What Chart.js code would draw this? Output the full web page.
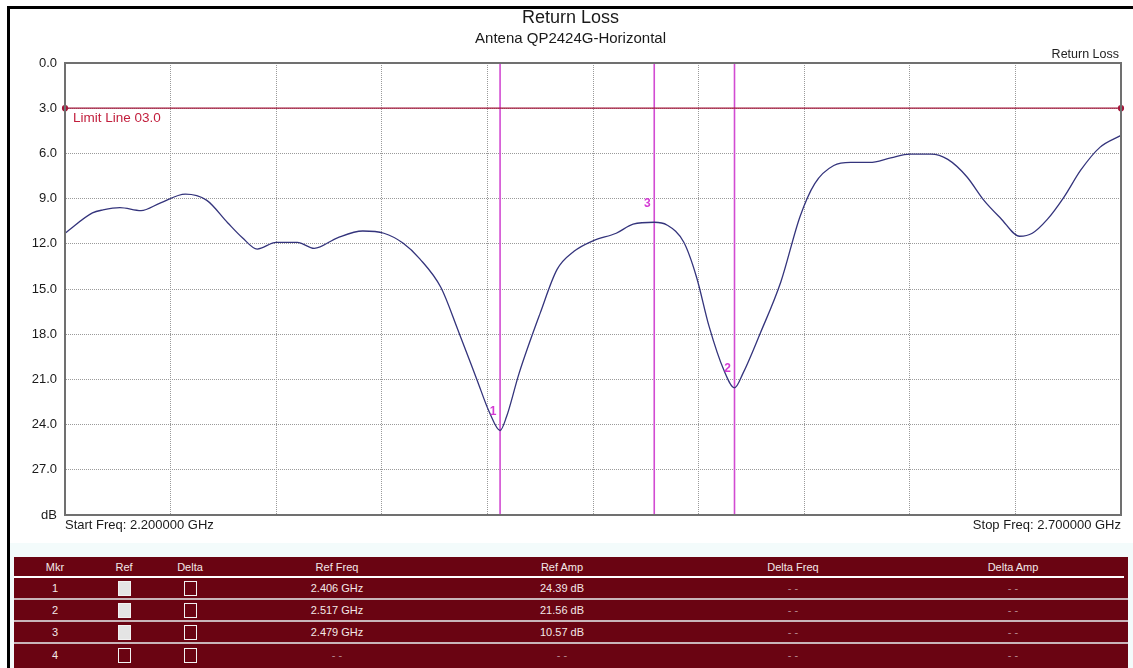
<!DOCTYPE html>
<html>
<head>
<meta charset="utf-8">
<title>Return Loss</title>
<script src="https://cdn.jsdelivr.net/npm/chart.js@4.4.1/dist/chart.umd.min.js"></script>
<style>
  body { margin: 0; width: 1133px; height: 668px; overflow: hidden; background: #fff; position: relative;
         font-family: Arial, "Liberation Sans", sans-serif; }
  #frame { position: absolute; left: 7px; top: 6px; right: 0; bottom: 0; border-top: 3px solid #000; border-left: 3px solid #000; }
  #panel { position: absolute; left: 10px; top: 543px; right: 0; bottom: 0; background: #f3fbfb; }
  #chart { position: absolute; left: 0; top: 0; }
  #mkr { position: absolute; left: 14px; top: 557px; width: 1114px; height: 111px; background: #6a0412;
         color: #f3e8e8; font-size: 11px; }
  .row { display: flex; align-items: center; box-sizing: border-box; }
  .row.head { height: 21px; border-bottom: 2px solid #fff; margin-right: 4px; }
  .row.body { height: 22px; border-bottom: 2px solid #c9b5b9; }
  .row.body:last-child { border-bottom: none; }
  .cell { text-align: center; }
  .dash { color: #b88c94; }
  .box { display: inline-block; width: 13px; height: 15px; box-sizing: border-box; border: 1.5px solid #f2f2f2; vertical-align: middle; }
  .box.on { background: #e4e4e4; }
</style>
</head>
<body>
<div id="frame"></div>
<div id="panel"></div>
<canvas id="chart" width="1133" height="545"></canvas>
<div id="mkr"></div>
<script>
// trace (GHz, dB)
const freqGHz = [2.200, 2.213, 2.218, 2.226, 2.236, 2.245, 2.257, 2.267, 2.277, 2.284,
                 2.291, 2.300, 2.310, 2.318, 2.329, 2.341, 2.351, 2.360, 2.368, 2.378,
                 2.386, 2.395, 2.401, 2.406, 2.409, 2.415, 2.425, 2.433, 2.441, 2.450,
                 2.461, 2.469, 2.479, 2.485, 2.493, 2.499, 2.505, 2.512, 2.517, 2.521,
                 2.529, 2.539, 2.548, 2.555, 2.564, 2.572, 2.581, 2.591, 2.600, 2.610,
                 2.618, 2.627, 2.635, 2.643, 2.652, 2.658, 2.665, 2.673, 2.681, 2.690, 2.700];
const returnLossDb = [11.3, 9.95, 9.75, 9.6, 9.8, 9.3, 8.7, 9.1, 10.6, 11.6,
                      12.35, 11.9, 11.9, 12.3, 11.6, 11.15, 11.3, 11.95, 13.0, 14.9,
                      17.7, 21.0, 23.2, 24.39, 23.5, 20.6, 16.6, 13.7, 12.5, 11.8,
                      11.3, 10.7, 10.57, 10.75, 11.9, 14.2, 17.5, 20.4, 21.56, 20.6,
                      18.0, 14.5, 10.2, 8.0, 6.8, 6.6, 6.6, 6.3, 6.05, 6.05,
                      6.4, 7.55, 9.1, 10.3, 11.5, 11.3, 10.4, 8.9, 7.1, 5.6, 4.8];

const startFreq = 2.2;
const stopFreq = 2.7;
const limitDb = 3.0;
const xTickLabels = ['Start Freq: 2.200000 GHz', 'Stop Freq: 2.700000 GHz'];

const markerIds = [1, 2, 3, 4];
const markerFreq = [2.406, 2.517, 2.479, null];
const markerAmp = [24.39, 21.56, 10.57, null];
const markerRefOn = [true, true, true, false];

const font = 'Arial, "Liberation Sans", sans-serif';

const markerSets = markerIds.filter((id, i) => markerFreq[i] !== null).map((id, i) => ({
    label: 'M' + id,
    data: [{ x: markerFreq[i], y: 0 }, { x: markerFreq[i], y: 30 }],
    borderColor: '#d24cd2',
    borderWidth: 1.6,
    pointRadius: 0
}));

const overlay = {
    id: 'overlay',
    afterDatasetsDraw(chart) {
        const { ctx, chartArea: a, scales: { x, y } } = chart;
        ctx.save();
        // plot frame
        ctx.strokeStyle = '#707070';
        ctx.lineWidth = 2;
        ctx.strokeRect(a.left, a.top, a.right - a.left, a.bottom - a.top);
        // trace name
        ctx.fillStyle = '#222';
        ctx.font = '12.5px ' + font;
        ctx.textAlign = 'right';
        ctx.textBaseline = 'middle';
        ctx.fillText('Return Loss', 1119, 55);
        // limit line label
        ctx.fillStyle = '#c21f3d';
        ctx.font = '13.5px ' + font;
        ctx.textAlign = 'left';
        ctx.fillText('Limit Line 03.0', a.left + 8, y.getPixelForValue(limitDb) + 10);
        // marker numbers
        ctx.fillStyle = '#d43ad4';
        ctx.font = 'bold 12px ' + font;
        ctx.textAlign = 'center';
        markerIds.forEach((id, i) => {
            if (markerFreq[i] === null) return;
            ctx.fillText(String(id), x.getPixelForValue(markerFreq[i]) - 7, y.getPixelForValue(markerAmp[i]) - 19);
        });
        ctx.restore();
    }
};

new Chart(document.getElementById('chart'), {
    type: 'line',
    data: {
        datasets: [
            {
                label: 'Return Loss',
                data: freqGHz.map((f, i) => ({ x: f, y: returnLossDb[i] })),
                borderColor: '#34347c',
                borderWidth: 1.3,
                pointRadius: 0,
                cubicInterpolationMode: 'monotone'
            },
            {
                label: 'Limit',
                data: [{ x: startFreq, y: limitDb }, { x: stopFreq, y: limitDb }],
                borderColor: '#a3173a',
                backgroundColor: '#a3173a',
                borderWidth: 1.2,
                pointRadius: 2.5
            },
            ...markerSets
        ]
    },
    options: {
        responsive: false,
        devicePixelRatio: 1,
        animation: false,
        clip: false,
        layout: { padding: { top: 0, left: 20, right: 12, bottom: 0 } },
        plugins: {
            legend: { display: false },
            tooltip: { enabled: false },
            title: {
                display: true,
                text: 'Return Loss',
                color: '#1a1a1a',
                font: { family: font, size: 18, weight: 'normal' },
                padding: { top: 7, bottom: 0 }
            },
            subtitle: {
                display: true,
                text: 'Antena QP2424G-Horizontal',
                color: '#1a1a1a',
                font: { family: font, size: 15 },
                padding: { top: 1, bottom: 15.4 }
            }
        },
        scales: {
            x: {
                type: 'linear',
                min: startFreq,
                max: stopFreq,
                afterFit(scale) { scale.height = 30; },
                grid: { color: '#9a9a9a', drawTicks: false },
                border: { display: true, color: '#707070', width: 2, dash: [1, 1] },
                ticks: {
                    stepSize: 0.05,
                    autoSkip: false,
                    maxRotation: 0,
                    minRotation: 0,
                    align: 'inner',
                    padding: 3,
                    color: '#1a1a1a',
                    font: { family: font, size: 13 },
                    callback: (v) => {
                        if (Math.abs(v - startFreq) < 1e-6) return xTickLabels[0];
                        if (Math.abs(v - stopFreq) < 1e-6) return xTickLabels[1];
                        return '';
                    }
                }
            },
            y: {
                reverse: true,
                min: 0,
                max: 30,
                afterFit(scale) { scale.width = 45; },
                grid: { color: '#9a9a9a', drawTicks: false },
                border: { display: true, color: '#707070', width: 2, dash: [1, 1] },
                ticks: {
                    stepSize: 3,
                    padding: 8,
                    color: '#1a1a1a',
                    font: { family: font, size: 13 },
                    callback: (v) => v === 30 ? 'dB' : v.toFixed(1)
                }
            }
        }
    },
    plugins: [overlay]
});

// marker table
const colWidths = [82, 56, 76, 218, 232, 230, 210];
const headers = ['Mkr', 'Ref', 'Delta', 'Ref Freq', 'Ref Amp', 'Delta Freq', 'Delta Amp'];
const table = document.getElementById('mkr');
const cell = (html, i, cls) => `<div class="cell ${cls || ''}" style="width:${colWidths[i]}px">${html}</div>`;
let html = '<div class="row head">' + headers.map((h, i) => cell(h, i)).join('') + '</div>';
markerIds.forEach((id, r) => {
    const has = markerFreq[r] !== null;
    html += '<div class="row body">' +
        cell(String(id), 0) +
        cell(`<span class="box ${markerRefOn[r] ? 'on' : ''}"></span>`, 1) +
        cell('<span class="box"></span>', 2) +
        cell(has ? markerFreq[r].toFixed(3) + ' GHz' : '- -', 3, has ? '' : 'dash') +
        cell(has ? markerAmp[r].toFixed(2) + ' dB' : '- -', 4, has ? '' : 'dash') +
        cell('- -', 5, 'dash') +
        cell('- -', 6, 'dash') +
        '</div>';
});
table.innerHTML = html;
</script>
</body>
</html>
